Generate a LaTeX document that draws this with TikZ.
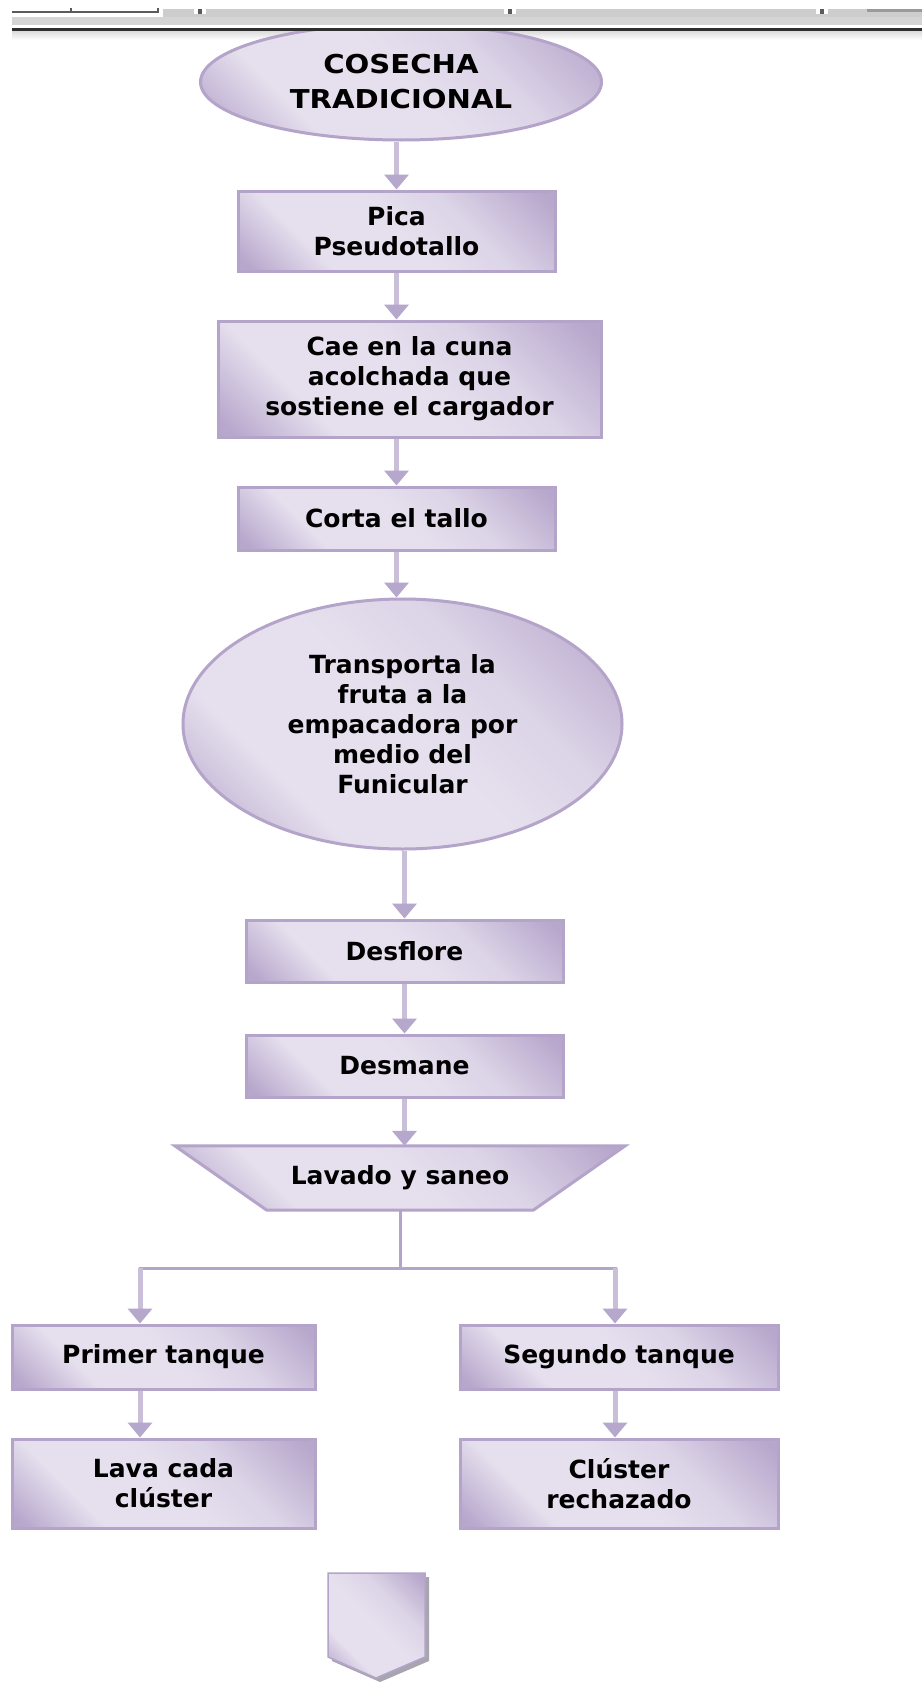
\documentclass[tikz,border=0pt]{standalone}
\usepackage{fontspec}
\setmainfont{DejaVu Sans}
\newfontfamily\titlefont{DejaVu Sans}[FakeStretch=1.12]
\usetikzlibrary{shapes.geometric,arrows.meta}
\definecolor{lavL}{HTML}{E6E0EE}
\definecolor{lavM}{HTML}{DCD4E7}
\definecolor{lavD}{HTML}{B7A7CC}
\definecolor{lavB}{HTML}{B4A4CA}
\definecolor{lavA}{HTML}{B6A7CC}
\definecolor{lavS}{HTML}{C9BFD9}
\definecolor{barG}{HTML}{CDCDCD}
\definecolor{barL}{HTML}{D4D4D4}
\definecolor{barK}{HTML}{5A5A5A}
\definecolor{barB}{HTML}{2E2E2E}
\definecolor{barS}{HTML}{9A9A9A}
\definecolor{shad}{HTML}{A8A5B0}
\pgfdeclareverticalshading{lavsh}{100bp}{color(0bp)=(lavD); color(17bp)=(lavD); color(32bp)=(lavL); color(50bp)=(lavL); color(64bp)=(lavM); color(83bp)=(lavD); color(100bp)=(lavD)}
\begin{document}
\begin{tikzpicture}[x=1pt,y=-1pt,
  lav/.style={draw=lavB, line width=3pt, shade, shading=lavsh, shading angle=-45},
  proc/.style={lav, rectangle, inner sep=0pt, align=center, font=\bfseries\fontsize{25}{30}\selectfont},
  oval/.style={lav, ellipse, inner sep=0pt, align=center, font=\bfseries\fontsize{25}{30}\selectfont},
  conn/.style={draw=lavS, line width=5pt, -{Triangle[width=24pt,length=15pt,color=lavA]}},
  brline/.style={draw=lavB, line width=3pt}
]
\useasboundingbox (0,0) rectangle (922,1686);
\fill[white] (0,0) rectangle (922,1686);
% fade under the top bar
\shade[top color=black!14, bottom color=white] (12,31) rectangle (922,40);

% nodes
\node[oval, minimum width=401pt, minimum height=116pt, font=\titlefont\bfseries\fontsize{26}{35}\selectfont] (e1) at (401,82) {COSECHA\\TRADICIONAL};
\node[proc, minimum width=317pt, minimum height=80pt] (b1) at (396.5,231) {Pica\\Pseudotallo};
\node[proc, minimum width=383pt, minimum height=116pt] (b2) at (409.5,379) {Cae en la cuna\\acolchada que\\sostiene el cargador};
\node[proc, minimum width=317pt, minimum height=63pt] (b3) at (396.5,518.5) {Corta el tallo};
\node[oval, minimum width=439pt, minimum height=250pt] (e2) at (402.5,724) {Transporta la\\fruta a la\\empacadora por\\medio del\\Funicular};
\node[proc, minimum width=317pt, minimum height=62pt] (d1) at (404.5,951) {Desflore};
\node[proc, minimum width=317pt, minimum height=62pt] (d2) at (404.5,1066) {Desmane};
\node[minimum width=450pt, minimum height=64pt, inner sep=0pt] (tr) at (400,1178) {};
\shade[lav] (tr.north west) -- (tr.north east) -- ([xshift=-92pt]tr.south east) -- ([xshift=92pt]tr.south west) -- cycle;
\node[font=\bfseries\fontsize{25}{30}\selectfont] (trt) at (tr.center) {Lavado y saneo};
\node[proc, minimum width=303pt, minimum height=64pt] (p1) at (163.5,1357) {Primer tanque};
\node[proc, minimum width=318pt, minimum height=64pt] (p2) at (619,1357) {Segundo tanque};
\node[proc, minimum width=303pt, minimum height=89pt] (q1) at (163.5,1483.5) {Lava cada\\clúster};
\node[proc, minimum width=318pt, minimum height=89pt] (q2) at (619,1483.5) {Clúster\\rechazado};

% connectors
\draw[conn] (e1.south -| b1.north) -- (b1.north);
\draw[conn] (b1.south) -- (b1.south |- b2.north);
\draw[conn] (b3.north |- b2.south) -- (b3.north);
\draw[conn] (b3.south) -- (b3.south |- e2.north);
\draw[conn] (d1.north |- e2.south) -- (d1.north);
\draw[conn] (d1.south) -- (d2.north);
\draw[conn] (d2.south) -- (d2.south |- tr.north);
\coordinate (jc) at (400,1268);
\coordinate (jl) at (140,1268);
\coordinate (jr) at (615,1268);
\draw[brline] (tr.south) -- (jc);
\draw[brline] ([xshift=-1.5pt]jl) -- ([xshift=1.5pt]jr);
\draw[conn] (jl) -- (jl |- p1.north);
\draw[conn] (jr) -- (jr |- p2.north);
\draw[conn] (p1.south -| jl) -- (jl |- q1.north);
\draw[conn] (p2.south -| jr) -- (jr |- q2.north);

% off-page connector
\fill[shad] (332,1577) -- (429,1577) -- (429,1661) -- (380,1682) -- (332,1661) -- cycle;
\shade[lav, line width=1.5pt] (328,1573) -- (425,1573) -- (425,1657) -- (376,1678) -- (328,1657) -- cycle;

% top bar (window ruler)
\fill[white] (0,0) rectangle (922,28);
\fill[barG] (163,9) rectangle (922,17);
\fill[barL] (12,17) rectangle (922,25);
\draw[barK, line width=2pt] (12,12) -- (159,12);
\draw[barK, line width=2pt] (71,8) -- (71,13);
\draw[barK, line width=2pt] (158,8) -- (158,13);
\foreach \t in {200,510,822}{
  \fill[white] (\t-6,9) rectangle (\t+6,14);
  \fill[barK] (\t-2,9) rectangle (\t+2,14);
}
\fill[barS] (867,9) rectangle (922,12);
\fill[barB] (12,28) rectangle (922,31);
\end{tikzpicture}
\end{document}
